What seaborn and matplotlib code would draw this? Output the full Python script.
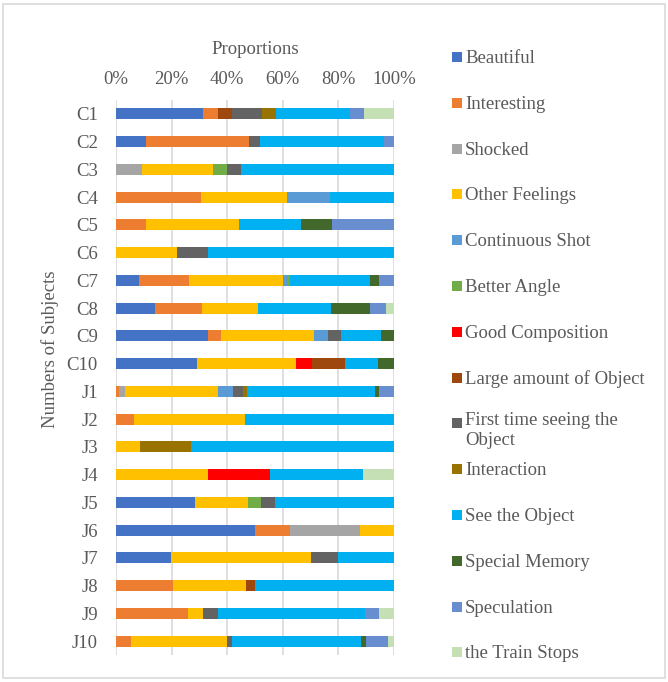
import numpy as np
import pandas as pd
import matplotlib
matplotlib.use("Agg")
import matplotlib.pyplot as plt
from matplotlib.patches import Rectangle
import seaborn as sns

subjects = ["C1", "C2", "C3", "C4", "C5", "C6", "C7", "C8", "C9", "C10",
            "J1", "J2", "J3", "J4", "J5", "J6", "J7", "J8", "J9", "J10"]

categories = ["Beautiful", "Interesting", "Shocked", "Other Feelings",
              "Continuous Shot", "Better Angle", "Good Composition",
              "Large amount of Object", "First time seeing the\nObject",
              "Interaction", "See the Object", "Special Memory",
              "Speculation", "the Train Stops"]

colors = ["#4472C4", "#ED7D31", "#A5A5A5", "#FFC000", "#5B9BD5", "#70AD47",
          "#FF0000", "#9E480E", "#636363", "#997300", "#00B0F0", "#43682B",
          "#698ED0", "#C5E0B4"]

# share of answers (%) per subject, one list per category
beautiful = [31.2, 10.7, 0, 0, 0, 0, 8.4, 13.9, 33.1, 29.3,
             0, 0, 0, 0, 28.3, 49.9, 19.8, 0, 0, 0]
interesting = [5.5, 37.3, 0, 30.5, 10.7, 0, 18.0, 17.2, 4.7, 0,
               1.2, 6.4, 0, 0, 0, 12.6, 0, 20.4, 26.0, 5.5]
shocked = [0, 0, 9.5, 0, 0, 0, 0, 0, 0, 0,
           1.9, 0, 0, 0, 0, 25.1, 0, 0, 0, 0]
other_feelings = [0, 0, 25.3, 31.0, 33.7, 22.1, 33.7, 20.1, 33.4, 35.4,
                  33.6, 40.2, 8.8, 33.2, 19.2, 12.4, 50.2, 26.5, 5.4, 34.4]
continuous_shot = [0, 0, 0, 15.4, 0, 0, 1.7, 0, 5.0, 0,
                   5.4, 0, 0, 0, 0, 0, 0, 0, 0, 0]
better_angle = [0, 0, 5.1, 0, 0, 0, 0.8, 0, 0, 0,
                0, 0, 0, 0, 4.8, 0, 0, 0, 0, 0]
good_composition = [0, 0, 0, 0, 0, 0, 0, 0, 0, 6.0,
                    0, 0, 0, 22.3, 0, 0, 0, 0, 0, 0]
large_amount = [5.2, 0, 0, 0, 0, 0, 0, 0, 0, 11.7,
                0, 0, 0, 0, 0, 0, 0, 3.0, 0, 0]
first_time = [10.5, 3.7, 4.9, 0, 0, 11.0, 0, 0, 4.6, 0,
              3.5, 0, 0, 0, 4.8, 0, 10.0, 0, 5.2, 1.9]
interaction = [5.3, 0, 0, 0, 0, 0, 0, 0, 0, 0,
               1.7, 0, 18.3, 0, 0, 0, 0, 0, 0, 0]
see_object = [26.4, 44.6, 55.2, 23.1, 22.1, 66.9, 28.6, 26.0, 14.6, 12.1,
              45.8, 53.5, 72.9, 33.5, 42.9, 0, 20.0, 50.1, 52.8, 46.2]
special_memory = [0, 0, 0, 0, 11.1, 0, 3.5, 14.0, 4.6, 5.6,
                  1.7, 0, 0, 0, 0, 0, 0, 0, 0, 2.0]
speculation = [5.3, 3.7, 0, 0, 22.4, 0, 5.3, 6.0, 0, 0,
               5.3, 0, 0, 0, 0, 0, 0, 0, 5.3, 8.0]
train_stops = [10.7, 0, 0, 0, 0, 0, 0, 2.8, 0, 0,
               0, 0, 0, 11.0, 0, 0, 0, 0, 5.3, 2.0]

series = [beautiful, interesting, shocked, other_feelings, continuous_shot,
          better_angle, good_composition, large_amount, first_time,
          interaction, see_object, special_memory, speculation, train_stops]

df = pd.DataFrame(np.array(series).T, index=subjects, columns=categories)
df = df.div(df.sum(axis=1), axis=0) * 100
cum = df.cumsum(axis=1)

sns.set_theme(style="white")
plt.rcParams["font.family"] = ["Liberation Serif", "DejaVu Serif"]
text_color = "#595959"
fs = 13.5

W, H = 668, 682
fig = plt.figure(figsize=(W / 100, H / 100), dpi=100)
ax = fig.add_axes([116 / W, 1 - 655 / H, 278 / W, 555 / H])

# stacked bars: draw running totals from the last category backwards
for cat, col in zip(reversed(categories), reversed(colors)):
    sns.barplot(x=cum[cat].values, y=subjects, orient="h", color=col,
                saturation=1, width=0.4, linewidth=0, ax=ax)

ax.set_xlim(0, 100)
ax.set_xticks(range(0, 101, 20))
ax.set_xticklabels([f"{t}%" for t in range(0, 101, 20)])
ax.xaxis.tick_top()
ax.xaxis.set_label_position("top")
ax.set_xlabel("Proportions", fontsize=fs, color=text_color, labelpad=12)
ax.set_ylabel("Numbers of Subjects", fontsize=fs, color=text_color)
ax.yaxis.set_label_coords(-0.205, 0.55)
ax.tick_params(axis="both", length=0, labelsize=fs, labelcolor=text_color)
ax.tick_params(axis="x", pad=9)
ax.tick_params(axis="y", pad=13)
ax.grid(axis="x", color="#D9D9D9", linewidth=1.2)
ax.grid(axis="y", visible=False)
ax.set_axisbelow(True)
for s in ax.spines.values():
    s.set_visible(False)

# legend column on the right
y0, step = 57, 45.8
for i, (cat, col) in enumerate(zip(categories, colors)):
    yc = y0 + i * step
    fig.add_artist(Rectangle((452 / W, 1 - (yc + 5) / H), 10 / W, 10 / H,
                             transform=fig.transFigure, facecolor=col,
                             edgecolor="none"))
    if "\n" in cat:
        fig.text(465 / W, 1 - (yc - 11) / H, cat, ha="left", va="top",
                 fontsize=fs, color=text_color, linespacing=1.18)
    else:
        fig.text(465 / W, 1 - (yc + 1.5) / H, cat, ha="left", va="center",
                 fontsize=fs, color=text_color)

# chart area frame
fig.add_artist(Rectangle((3 / W, 4 / H), 662 / W, 674 / H,
                         transform=fig.transFigure, facecolor="none",
                         edgecolor="#D9D9D9", linewidth=1.2))

fig.savefig("out.png", dpi=100)
